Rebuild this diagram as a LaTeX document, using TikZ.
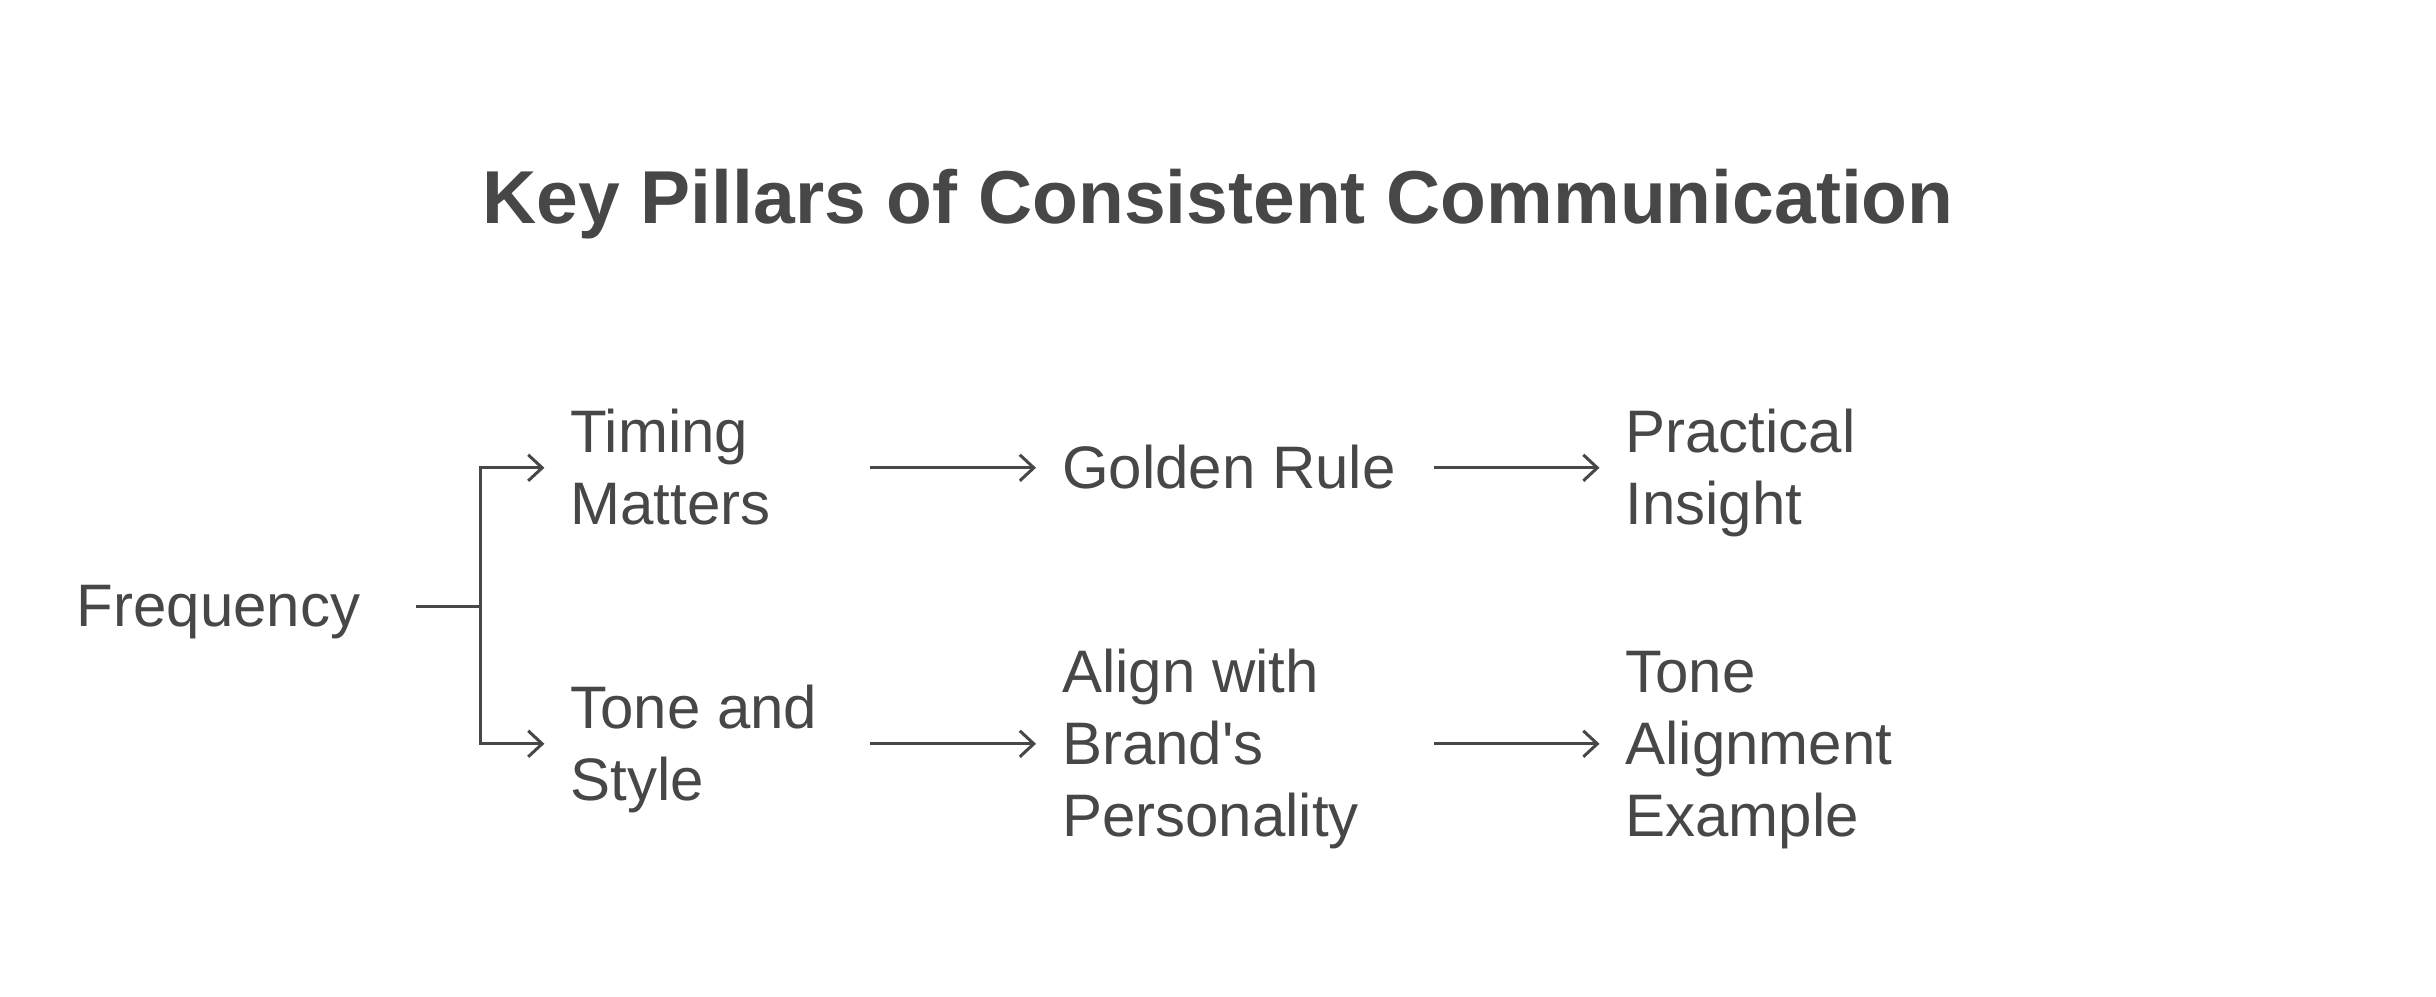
\documentclass[tikz,border=0pt]{standalone}
\usepackage{fontspec}
\setmainfont{Liberation Sans}[Ligatures=TeXOff]
\usetikzlibrary{arrows.meta}
\definecolor{ink}{HTML}{474747}
\renewcommand\arraystretch{0}
\newcommand\rs{\rule[-15.4pt]{0pt}{72pt}}
\newcommand\ml[2]{\makebox[#1][l]{\begin{tabular}{@{}l@{}}#2\end{tabular}}}
\newcommand\mlx[1]{\begin{tabular}{@{}l@{}}#1\end{tabular}}
\begin{document}
\begin{tikzpicture}[x=1pt,y=-1pt,
  every node/.style={inner sep=0pt, outer sep=0pt, text=ink, font=\fontsize{60}{72}\selectfont},
  lbl/.style={anchor=west},
  ttl/.style={anchor=base, font=\bfseries\fontsize{75}{90}\selectfont},
  ln/.style={draw=ink, line width=3pt},
  arr/.style={ln, -{Straight Barb[length=14pt,width=26pt]}, shorten >=26pt}]
\fill[white] (0,0) rectangle (2436,996);
\useasboundingbox (0,0) rectangle (2436,996);
\node[ttl] (title) at (1218,223.3) {Key Pillars of Consistent Communication};
\node[lbl] (freq) at (76.8,606) {\ml{339.2pt}{\rs Frequency}};
\node[lbl] (tm) at (570.4,467.8) {\ml{299.5pt}{\rs Timing\\\rs Matters}};
\node[lbl] (ts) at (570.4,743.8) {\ml{299.5pt}{\rs Tone and\\\rs Style}};
\node[lbl] (gr) at (1062,467.8) {\ml{371.7pt}{\rs Golden Rule}};
\node[lbl] (ab) at (1062,743.8) {\ml{371.7pt}{\rs Align with\\\rs Brand's\\\rs Personality}};
\node[lbl] (pi) at (1625.5,467.8) {\mlx{\rs Practical\\\rs Insight}};
\node[lbl] (ta) at (1625.5,743.8) {\mlx{\rs Tone\\\rs Alignment\\\rs Example}};
\coordinate (j) at (480,606);
\draw[ln] (freq.east) -- (j);
\draw[arr] (j) |- (tm.west);
\draw[arr] (j) |- (ts.west);
\draw[arr] (tm.east) -- (gr.west);
\draw[arr] (ts.east) -- (ab.west);
\draw[arr] (gr.east) -- (pi.west);
\draw[arr] (ab.east) -- (ta.west);
\end{tikzpicture}
\end{document}
